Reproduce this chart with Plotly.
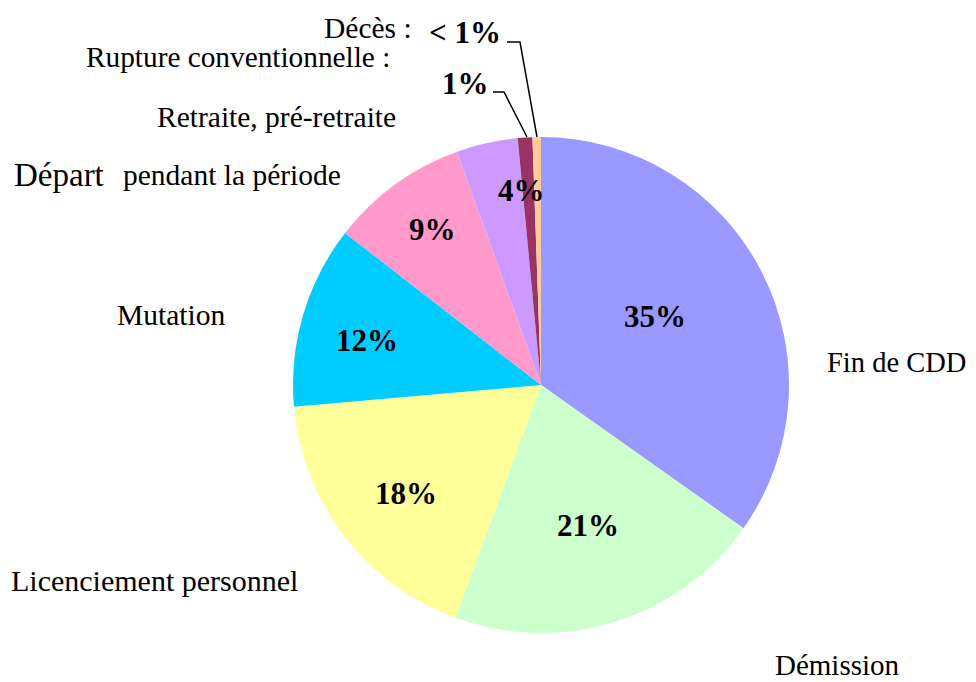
import plotly.graph_objects as go

# Motifs de départ (sens horaire depuis midi)
categories = [
    "Fin de CDD",
    "Démission",
    "Licenciement personnel",
    "Mutation",
    "Départ pendant la période",
    "Retraite, pré-retraite",
    "Rupture conventionnelle :",
    "Décès :",
]
values = [34.8, 20.8, 18.0, 11.9, 9.0, 4.0, 0.95, 0.55]
pct_labels = ["35%", "21%", "18%", "12%", "9%", "4%", "1%", "< 1%"]
colors = ["#9999FF", "#CCFFCC", "#FFFF99", "#00CCFF", "#FF99CC", "#CC99FF", "#993366", "#FFCC99"]

W, H = 976, 682
OFF = 8  # page body margin
CX, CY, R = 541, 385, 248


def px(x, y):
    return (x - OFF) / W, 1 - (y - OFF) / H


x0, y0 = px(CX - R, CY + R)
x1, y1 = px(CX + R, CY - R)

fig = go.Figure(
    go.Pie(
        labels=categories,
        values=values,
        sort=False,
        direction="clockwise",
        rotation=0,
        marker={"colors": colors, "line": {"width": 0}},
        textinfo="none",
        hoverinfo="label+percent",
        showlegend=False,
        domain={"x": [x0, x1], "y": [y0, y1]},
    )
)

serif = "Liberation Serif, Times New Roman, serif"

# category labels: (text, x, y, anchor, size)
cat_pos = [
    (categories[0], 825, 362, "left", 28.5),
    (categories[1], 773, 665, "left", 29),
    (categories[2], 9, 580, "left", 30),
    (categories[3], 115, 315, "left", 29.5),
    ("pendant la période", 121, 175, "left", 29.5),
    (categories[5], 155, 117, "left", 29.5),
    (categories[6], 84, 57, "left", 29.3),
    (categories[7], 414, 28, "right", 29.5),
    ("Départ", 12, 175, "left", 33),
]
annotations = []
for text, x, y, anchor, size in cat_pos:
    ax, ay = px(x, y)
    annotations.append(dict(
        text=text, x=ax, y=ay, xref="paper", yref="paper", xanchor=anchor, yanchor="middle",
        showarrow=False, font={"family": serif, "size": size, "color": "black"},
    ))

pct_pos = [(655, 316), (588, 525), (406, 493), (367, 340), (432, 230), (521, 190), (465, 83), (465, 33)]
for text, (x, y) in zip(pct_labels, pct_pos):
    ax, ay = px(x, y)
    annotations.append(dict(
        text=f"<b>{text}</b>", x=ax, y=ay, xref="paper", yref="paper", xanchor="center", yanchor="middle",
        showarrow=False, font={"family": serif, "size": 31, "color": "black"},
    ))

# leader lines for the two thin slices
shapes = []
for pts in ([(493, 92), (504, 92), (527, 137)], [(507, 42), (520, 42), (537, 137)]):
    p = [px(x, y) for x, y in pts]
    path = "M " + " L ".join(f"{a},{b}" for a, b in p)
    shapes.append(dict(type="path", path=path, xref="paper", yref="paper",
                       line={"color": "black", "width": 1.5}))

fig.update_layout(
    width=W,
    height=H,
    margin={"l": 0, "r": 0, "t": 0, "b": 0},
    paper_bgcolor="white",
    plot_bgcolor="white",
    annotations=annotations,
    shapes=shapes,
)

fig.write_html("out.html")
